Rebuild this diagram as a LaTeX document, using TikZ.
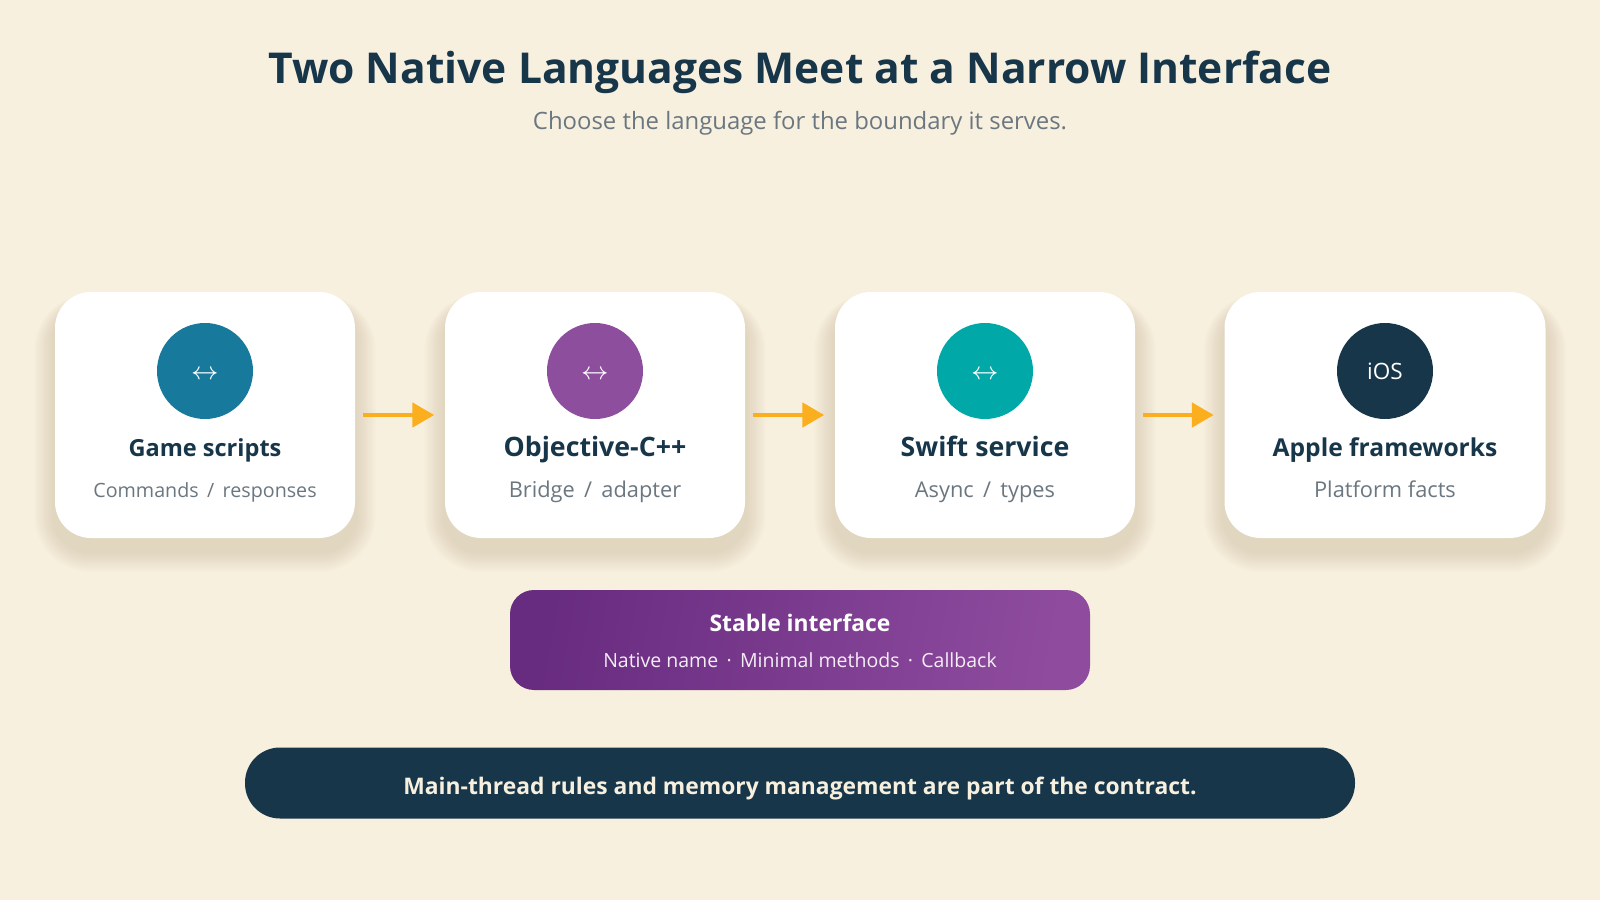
\documentclass[tikz,border=0pt]{standalone}
\usepackage{fontspec}
\setmainfont{Open Sans}
\usetikzlibrary{positioning,arrows.meta,backgrounds}
\definecolor{cream}{HTML}{F8F0DF}
\definecolor{ink}{HTML}{17364A}
\definecolor{greytxt}{HTML}{6B7780}
\definecolor{bluec}{HTML}{177A9C}
\definecolor{purplec}{HTML}{8E4E9E}
\definecolor{tealc}{HTML}{00A8A8}
\definecolor{arrowc}{HTML}{FBAF1E}
\definecolor{plumdark}{HTML}{672B7F}
\definecolor{plumlight}{HTML}{8F4C9F}
\definecolor{shadowc}{HTML}{B9A783}
\newcommand{\swapglyph}{\smash{\raisebox{-0.9mm}{$\leftrightarrow$}}}
\tikzset{
  card/.style={draw=none,fill=white,rounded corners=3.6mm,minimum width=3cm,minimum height=2.46cm},
  badge/.style={circle,minimum size=9.6mm,inner sep=0pt,text=white,font=\fontsize{7}{8}\selectfont},
  cardtitle/.style={anchor=base,text=ink,font=\fontsize{7.6}{9}\selectfont\bfseries},
  cardsub/.style={anchor=base,text=greytxt,font=\fontsize{6.2}{8}\selectfont},
  flow/.style={draw=arrowc,line width=1.4pt,-{Triangle[length=2.2mm,width=2.4mm]},shorten <=0.7mm,shorten >=1mm}
}
\begin{document}
\begin{tikzpicture}[x=0.1mm,y=-0.1mm]
	\useasboundingbox (0,0) rectangle (1600,900);
	\node[anchor=base,text=ink,font=\fontsize{12.1}{15}\selectfont\bfseries] (title) at (800,84) {Two Native Languages Meet at a Narrow Interface};
	\node[anchor=base,text=greytxt,font=\fontsize{6.8}{8}\selectfont] (subtitle) at (800,130) {Choose the language for the boundary it serves.};
	\node[card] (game) at (205,415) {};
	\node[card] (objc) at (595,415) {};
	\node[card] (swift) at (985,415) {};
	\node[card,minimum width=3.21cm] (apple) at (1385,415) {};
	\begin{scope}[on background layer]
		\fill[cream] (0,0) rectangle (1600,900);
		\foreach \n in {game,objc,swift,apple}
			\foreach \i in {1,...,10}
				\fill[shadowc,opacity=0.035,rounded corners=3.6mm+\i*0.2mm]
					([xshift=-\i*0.2mm,yshift=-1.3mm-\i*0.2mm]\n.south west) rectangle ([xshift=\i*0.2mm,yshift=-1.3mm+\i*0.1mm]\n.north east);
	\end{scope}
	\node[badge,fill=bluec] (gameicon) at (205,371) {\swapglyph};
	\node[badge,fill=purplec] (objcicon) at (595,371) {\swapglyph};
	\node[badge,fill=tealc] (swifticon) at (985,371) {\swapglyph};
	\node[badge,fill=ink,font=\fontsize{6.4}{7}\selectfont] (appleicon) at (1385,371) {iOS};
	\node[cardtitle,font=\fontsize{6.7}{8}\selectfont\bfseries] (gamename) at (205,456) {Game scripts};
	\node[cardtitle] (objcname) at (595,456) {Objective-C++};
	\node[cardtitle] (swiftname) at (985,456) {Swift service};
	\node[cardtitle,font=\fontsize{7}{8}\selectfont\bfseries] (applename) at (1385,456) {Apple frameworks};
	\node[cardsub,font=\fontsize{5.6}{7}\selectfont] (gamesub) at (205,497) {Commands \,/\, responses};
	\node[cardsub] (objcsub) at (595,497) {Bridge \,/\, adapter};
	\node[cardsub] (swiftsub) at (985,497) {Async \,/\, types};
	\node[cardsub] (applesub) at (1385,497) {Platform facts};
	\draw[flow] (game) to (objc);
	\draw[flow] (objc) to (swift);
	\draw[flow] (swift) to (apple);
	\node[rounded corners=2.4mm,minimum width=5.8cm,minimum height=1cm,left color=plumdark,right color=plumlight,shading angle=80] (stable) at (800,640) {};
	\node[anchor=base,text=white,font=\fontsize{6.5}{8}\selectfont\bfseries] (stabletitle) at (800,631) {Stable interface};
	\node[anchor=base,text=white!90!plumlight,font=\fontsize{5.55}{7}\selectfont] (stablesub) at (800,667) {Native name \,·\, Minimal methods \,·\, Callback};
	\node[fill=ink,rounded corners=3.5mm,minimum width=11.1cm,minimum height=7.1mm] (contract) at (800,783) {};
	\node[anchor=base,text=cream,font=\fontsize{6.5}{8}\selectfont\bfseries] (contracttext) at (800,794) {Main-thread rules and memory management are part of the contract.};
\end{tikzpicture}
\end{document}
